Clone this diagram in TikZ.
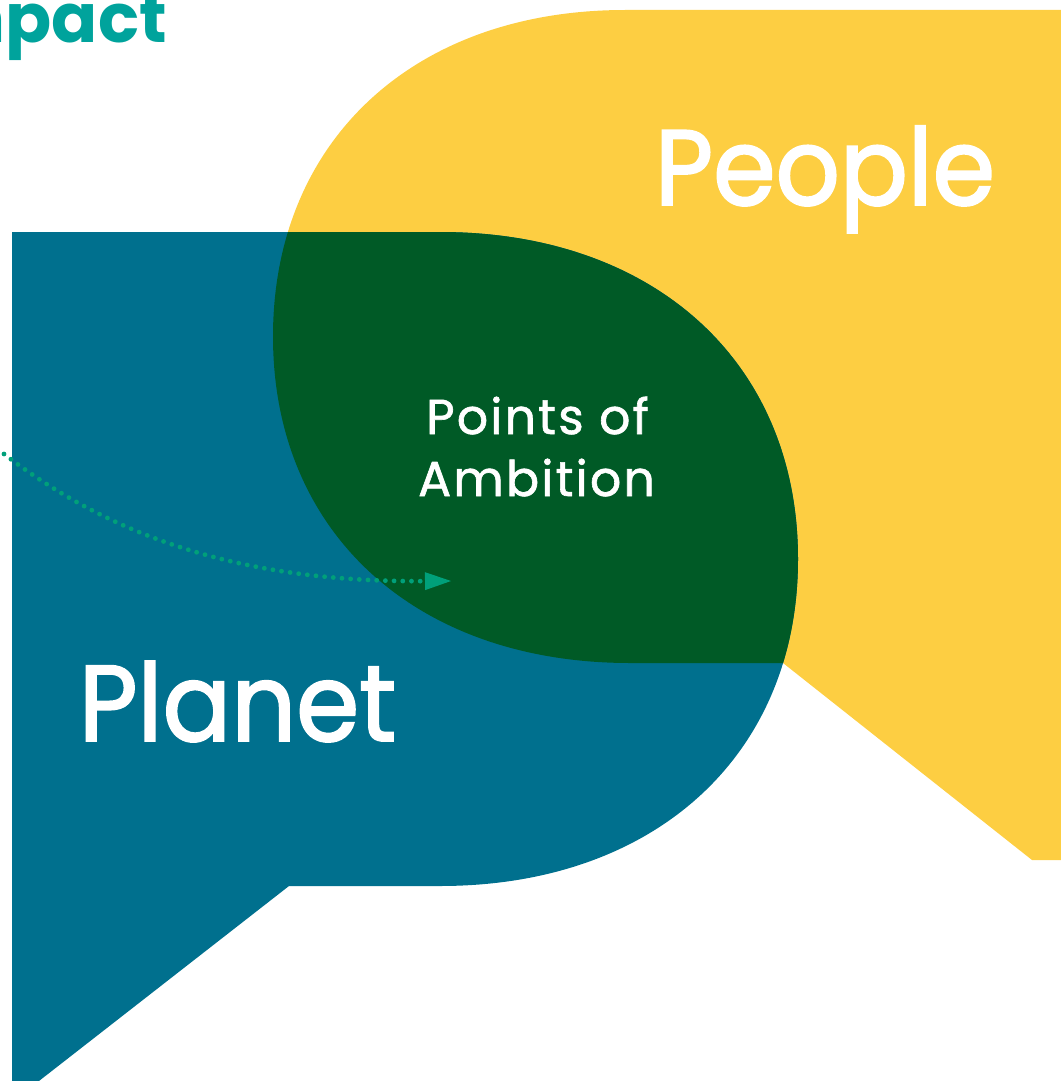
\documentclass[tikz,border=0pt]{standalone}
\usepackage{fontspec}
\setmainfont{Poppins}
\newfontfamily\spaced[LetterSpace=4.5,FakeBold=1.3]{Poppins}
\newfontfamily\heavy[FakeBold=1.8,FakeStretch=0.94]{Poppins}
\usetikzlibrary{arrows.meta}
\definecolor{pyellow}{HTML}{FDCE42}
\definecolor{pblue}{HTML}{00708E}
\definecolor{pgreen}{HTML}{005A26}
\definecolor{pteal}{HTML}{00A39C}
\definecolor{parrow}{HTML}{00A07A}
\tikzset{
  bigword/.style={text=white, inner sep=0pt, anchor=base},
  midword/.style={text=white, inner sep=0pt, anchor=base, font=\spaced\fontsize{49}{49}\selectfont},
  dotline/.style={draw=parrow, line width=4.8pt, line cap=round, dash pattern=on 0pt off 8.7pt,
    -{Triangle[length=26pt,width=18pt,fill=parrow,line width=0pt]}}
}
\begin{document}
\begin{tikzpicture}[x=1pt,y=-1pt]
\useasboundingbox (0,0) rectangle (1060,1081);
\def\yellowpath{(1075,10) -- (625,10) .. controls (413.8,10) and (273,140.9) .. (273,336.5) .. controls (273,532.7) and (415.8,663) .. (630,663) -- (783,663) -- (1032,860) -- (1075,860) -- cycle}
\def\bluepath{(12,1095) -- (12,232) -- (440,232) .. controls (654.8,232) and (798,362.8) .. (798,559) .. controls (798,755.2) and (654.8,886) .. (440,886) -- (289,886) -- (21,1095) -- cycle}
\fill[pyellow] \yellowpath;
\fill[pblue] \bluepath;
\begin{scope}
  \clip \bluepath;
  \fill[pgreen] \yellowpath;
\end{scope}
\node[bigword, font=\heavy\fontsize{107}{107}\selectfont] (people) at (825,205) {People};
\node[bigword, font=\heavy\fontsize{108}{108}\selectfont] (planet) at (237.5,741) {Planet};
\node[midword] (points) at (537.5,434) {Points of};
\node[midword] (ambition) at (536.5,496) {Ambition};
\node[text=pteal, inner sep=0pt, anchor=base east, font=\bfseries\fontsize{68}{68}\selectfont] (impact) at (167,43) {Impact};
\coordinate (arrowstart) at (4,454);
\coordinate (arrowend) at (451,581);
\draw[dotline] (arrowstart) .. controls (130,551) and (270,582) .. (arrowend);
\end{tikzpicture}
\end{document}
